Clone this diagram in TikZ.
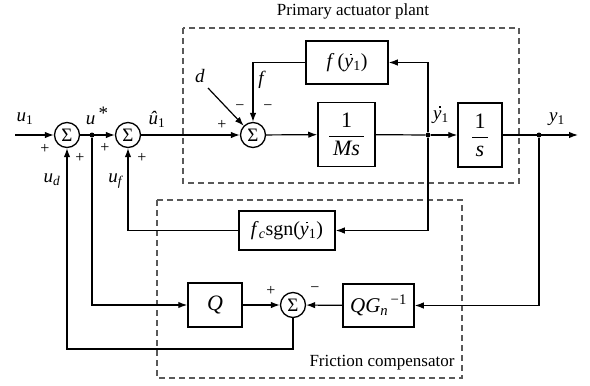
\documentclass[tikz,border=0pt]{standalone}
\usepackage{fontspec}
\setmainfont{Liberation Serif}
\usetikzlibrary{arrows.meta,calc}
\newcommand\ydt{\makebox[0pt][l]{\kern0.3em\raisebox{0.6em}{\rule{1.6pt}{1.6pt}}}\textit{y}}
\newcommand\sbs[1]{\textsubscript{#1}}
\begin{document}
\begin{tikzpicture}[x=1pt,y=-1pt,
  blk/.style={draw, line width=1.5pt, inner sep=0pt, font=\fontsize{20}{22}\selectfont},
  sumnode/.style={circle, draw, line width=1.3pt, minimum size=25pt, inner sep=0pt, font=\fontsize{19}{19}\selectfont},
  dotnode/.style={circle, fill, inner sep=0pt, minimum size=5pt},
  wire/.style={line width=1.2pt},
  arr/.style={wire, -{Latex[length=9pt,width=6.5pt]}},
  frame/.style={draw=black!65, dash pattern=on 6pt off 4pt, line width=1.1pt},
  lab/.style={font=\fontsize{19}{20}\selectfont, inner sep=0pt},
  sign/.style={font=\fontsize{16}{16}\selectfont, inner sep=0pt},
  ttl/.style={font=\fontsize{17}{18}\selectfont, inner sep=0pt}]
\useasboundingbox (0,0) rectangle (590,386);
% frames
\draw[frame] (183,28) rectangle (519,183);
\draw[frame] (157,200) rectangle (462,378);
\node[ttl] (tplant) at (353,11) {Primary actuator plant};
\node[ttl] (tfric) at (382,363) {Friction compensator};
% nodes
\coordinate (in) at (15,135);
\node[sumnode] (s1) at (67,135) {Σ};
\node[dotnode] (d1) at (92,135) {};
\node[sumnode] (s2) at (128,135) {Σ};
\node[sumnode] (s4) at (253,135) {Σ};
\node[blk, minimum width=57pt, minimum height=64pt, font=\fontsize{22}{24}\selectfont] (ms) at (346.5,134.5) {$\displaystyle\frac{\mbox{1}}{\mbox{\,\textit{Ms}\,}}$};
\node[blk, minimum width=82pt, minimum height=43pt] (fy) at (347,62.5) {\textit{f}\,(\ydt\sbs{1})};
\node[dotnode] (d2) at (428,135) {};
\node[blk, minimum width=44pt, minimum height=64pt, font=\fontsize{22}{24}\selectfont] (si) at (480,135) {$\displaystyle\frac{\mbox{1}}{\mbox{\,\textit{s}\,}}$};
\node[dotnode] (d3) at (539,135) {};
\coordinate (out) at (578,135);
\coordinate (dd) at (208,88);
\node[blk, minimum width=96pt, minimum height=39pt] (fc) at (287,230.5) {\textit{f}\sbs{\textit{c}}sgn(\ydt\sbs{1})};
\node[blk, minimum width=54pt, minimum height=44pt, font=\fontsize{22}{24}\selectfont] (q) at (215,305) {\textit{Q}};
\node[sumnode] (s3) at (293,305) {Σ};
\node[blk, minimum width=71pt, minimum height=43pt, font=\fontsize{21}{24}\selectfont] (qg) at (378.5,305.5) {\textit{QG}\sbs{\textit{n}}\textsuperscript{\,−1}};
\coordinate (cb) at (293,349);
% connectors
\draw[arr] (in) -- (s1);
\draw[arr] (s1) -- (s2);
\draw[arr] (s2) -- (s4);
\draw[arr] (s4) -- (ms);
\draw[wire] (ms) -- (d2);
\draw[arr] (d2) -- (si);
\draw[arr] (si) -- (out);
\draw[arr] (d2) |- (fy.east);
\draw[arr] (fy.west) -| (s4.north);
\draw[arr] (dd) -- (s4.north west);
\draw[arr] (d2) |- (fc.east);
\draw[arr] (fc.west) -| (s2.south);
\draw[arr] (d3) |- (qg.east);
\draw[arr] (qg) -- (s3);
\draw[arr] (q) -- (s3);
\draw[arr] (d1) |- (q.west);
\draw[arr] (s3.south) -- (cb) -| (s1.south);
% labels
\node[lab] (lu1) at (25,119) {\textit{u}\sbs{1}};
\node[sign] (p1) at (45,149) {+};
\node[sign] (p2) at (80,158) {+};
\node[lab] (lus) at (97,116) {\textit{u}\,\raisebox{0.3em}{*}};
\node[sign] (p3) at (105,148) {+};
\node[sign] (p4) at (142,158) {+};
\node[lab] (luh) at (157,119) {\textit{û}\sbs{1}};
\node[lab] (lud) at (52,180) {\textit{u}\sbs{\textit{d}}};
\node[lab] (luf) at (116,181) {\textit{u}\sbs{\textit{f}}};
\node[sign] (p5) at (222,125) {+};
\node[sign] (m1) at (240,108) {−};
\node[sign] (m2) at (268,108) {−};
\node[lab] (ld) at (200,76) {\textit{d}};
\node[lab] (lf) at (262,80) {\textit{f}};
\node[lab] (lyd) at (441,115) {\ydt\sbs{1}};
\node[lab] (ly1) at (557,119) {\textit{y}\sbs{1}};
\node[sign] (p6) at (271,291) {+};
\node[sign] (m3) at (315,290) {−};
\end{tikzpicture}
\end{document}
